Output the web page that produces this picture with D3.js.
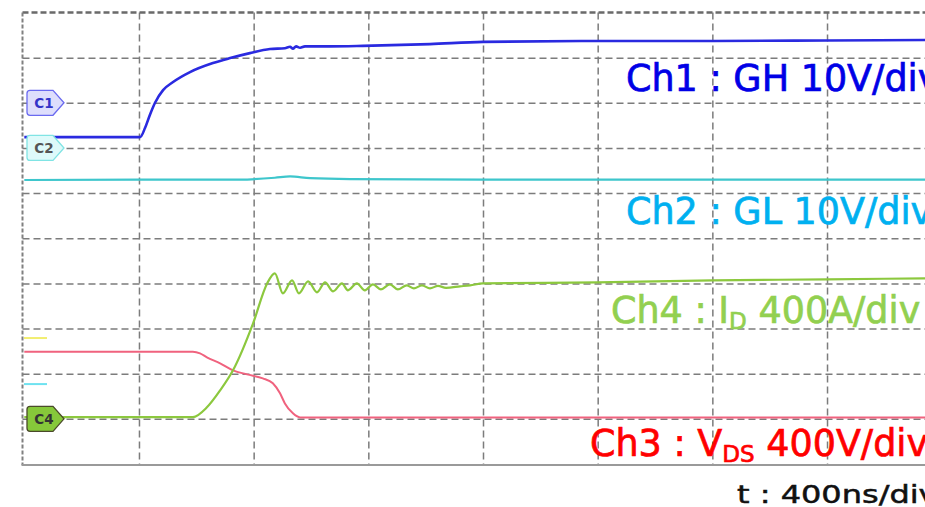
<!DOCTYPE html>
<html>
<head>
<meta charset="utf-8">
<script src="https://cdn.jsdelivr.net/npm/d3@7"></script>
<style>
  body { margin: 0; background: #fff; }
  svg { display: block; }
  .lbl { font-family: "DejaVu Sans", Verdana, sans-serif; font-weight: normal; }
  .tag { font-family: "DejaVu Sans", sans-serif; font-weight: bold; font-size: 13.5px; }
</style>
</head>
<body>
<div id="scope"></div>
<script>
  // screen of the scope
  var width = 925, height = 507;
  var box = {left: 22.5, top: 12.5, right: 925, bottom: 465};

  // time base 400 ns/div, 10 vertical divisions
  var timeTicks = [400, 800, 1200, 1600, 2000, 2400, 2800, 3200];
  var divTicks = [1, 2, 3, 4, 5, 6, 7, 8, 9];

  // Ch1 : GH, volts (10 V/div, ground at div 2 from top)
  var ch1Time = [0, 404, 421, 438, 456, 484, 519, 578, 658, 718, 787, 857, 909, 927, 937, 948, 962, 979, 1066, 1181, 1415, 1600, 2001, 2400, 2800, 3142];
  var ch1Volt = [-7.6, -7.6, -5.6, -2.7, 0.0, 2.8, 4.6, 6.8, 8.8, 9.9, 11.0, 11.9, 12.1, 12.4, 12.0, 12.5, 12.2, 12.5, 12.5, 12.6, 13.0, 13.5, 13.7, 13.7, 13.8, 13.9];

  // Ch2 : GL, volts (10 V/div, ground at div 3)
  var ch2Time = [0, 400, 752, 874, 927, 997, 1136, 1600, 2400, 3142];
  var ch2Volt = [-7.1, -7.0, -7.0, -6.6, -6.3, -6.7, -6.9, -7.0, -7.0, -7.0];

  // Ch3 : VDS, volts (400 V/div, ground at div 9)
  var ch3Time = [0, 588, 613, 637, 683, 728, 777, 832, 867, 892, 909, 937, 962, 1600, 3142];
  var ch3Volt = [594, 594, 580, 545, 492, 430, 394, 359, 315, 226, 137, 49, 13, 13, 13];

  // Ch4 : ID, amperes (400 A/div, ground at div 9)
  var ch4Time = [0, 588, 637, 683, 728, 798, 847, 874, 902, 934, 958, 990, 1021, 1049, 1077, 1108, 1129, 1160, 1188, 1216, 1244, 1275, 1303, 1334, 1359, 1387, 1415, 1443, 1471, 1520, 1555, 1600, 2001, 2399, 2800, 3142];
  var ch4Amp = [15, 15, 102, 252, 430, 846, 1200, 1289, 1112, 1227, 1112, 1218, 1121, 1209, 1130, 1200, 1139, 1200, 1139, 1192, 1147, 1192, 1147, 1183, 1156, 1183, 1156, 1178, 1161, 1174, 1183, 1200, 1209, 1227, 1236, 1245];

  // small level markers at the left edge, in divisions from top
  var levelDiv = [7.21, 8.23];
  var levelColor = ["#f2ee70", "#6ee2f0"];

  var svg = d3.select("#scope").append("svg")
      .attr("width", width)
      .attr("height", height);

  var x = d3.scaleLinear().domain([0, 3200]).range([24.3, 941.7]);
  var gy = d3.scaleLinear().domain([0, 10]).range([12.5, 464]);

  function chScale(zeroDiv, perDiv) {
    return d3.scaleLinear().domain([0, perDiv]).range([gy(zeroDiv), gy(zeroDiv - 1)]);
  }
  var y1 = chScale(2, 10), y2 = chScale(3, 10), y3 = chScale(9, 400), y4 = chScale(9, 400);

  // grid
  var gridV = svg.append("g")
      .attr("transform", `translate(0, ${box.top})`)
      .call(d3.axisTop(x).tickValues(timeTicks).tickSize(-(gy(10) - gy(0))).tickFormat(""));
  var gridH = svg.append("g")
      .attr("transform", `translate(${box.left}, 0)`)
      .call(d3.axisLeft(gy).tickValues(divTicks).tickSize(-(box.right - box.left)).tickFormat(""));
  svg.selectAll(".domain").remove();
  svg.selectAll(".tick line")
      .attr("stroke", "#7c7c7c")
      .attr("stroke-width", 1.5)
      .attr("stroke-dasharray", "7,4");

  // borders
  svg.append("line").attr("x1", box.left).attr("x2", box.right).attr("y1", box.top).attr("y2", box.top)
      .attr("stroke", "#6a6a6a").attr("stroke-width", 2.4).attr("stroke-dasharray", "6,3");
  svg.append("line").attr("x1", box.left).attr("x2", box.left).attr("y1", box.top).attr("y2", box.bottom)
      .attr("stroke", "#808080").attr("stroke-width", 2).attr("stroke-dasharray", "4,2");
  svg.append("line").attr("x1", box.left - 1).attr("x2", box.right).attr("y1", box.bottom).attr("y2", box.bottom)
      .attr("stroke", "#9a9a9a").attr("stroke-width", 2);

  svg.append("clipPath").attr("id", "screen")
    .append("rect")
      .attr("x", box.left).attr("y", box.top)
      .attr("width", box.right - box.left).attr("height", box.bottom - box.top);

  var traces = svg.append("g").attr("clip-path", "url(#screen)");

  function drawTrace(times, vals, yScale, color, w) {
    var line = d3.line()
        .x(function(d, i) { return x(times[i]); })
        .y(function(d) { return yScale(d); })
        .curve(d3.curveMonotoneX);
    traces.append("path")
        .datum(vals)
        .attr("d", line)
        .attr("fill", "none")
        .attr("stroke", color)
        .attr("stroke-width", w)
        .attr("stroke-linejoin", "round");
  }

  drawTrace(ch2Time, ch2Volt, y2, "#3ec6cc", 2.2);
  drawTrace(ch3Time, ch3Volt, y3, "#f0627e", 2);
  drawTrace(ch4Time, ch4Amp, y4, "#8cc83e", 2.2);
  drawTrace(ch1Time, ch1Volt, y1, "#2a2ae0", 2.6);

  // level markers
  svg.selectAll(".level")
      .data(levelDiv)
      .enter().append("line")
      .attr("class", "level")
      .attr("x1", 24).attr("x2", 47)
      .attr("y1", d => gy(d)).attr("y2", d => gy(d))
      .attr("stroke", (d, i) => levelColor[i])
      .attr("stroke-width", 2);

  // channel tags
  var tags = [
    {name: "C1", y: y1(0), fill: "#dedefc", stroke: "#6a6af0", text: "#3434c8"},
    {name: "C2", y: y2(0), fill: "#defafa", stroke: "#80e4e4", text: "#555555"},
    {name: "C4", y: y4(0), fill: "#86c83a", stroke: "#4a4a2a", text: "#333333"}
  ];
  var tag = svg.selectAll(".tag-g")
      .data(tags)
      .enter().append("g")
      .attr("transform", d => `translate(0, ${d.y})`);
  tag.append("path")
      .attr("d", "M30,-12.5 L53,-12.5 L64,0 L53,12.5 L30,12.5 Q27,12.5 27,9.5 L27,-9.5 Q27,-12.5 30,-12.5 Z")
      .attr("fill", d => d.fill)
      .attr("stroke", d => d.stroke)
      .attr("stroke-width", 1.3);
  tag.append("text")
      .attr("class", "tag")
      .attr("x", 44).attr("y", 5)
      .attr("text-anchor", "middle")
      .attr("fill", d => d.text)
      .text(d => d.name);

  // channel labels
  var lbl = svg.append("g").attr("class", "lbl");
  function label(xp, yp, color) {
    return lbl.append("text").attr("x", xp).attr("y", yp)
        .attr("font-size", 36.5).attr("fill", color)
        .attr("stroke", color).attr("stroke-width", 0.7);
  }
  label(626, 91, "#0000e6").text("Ch1 : GH 10V/div");
  label(626, 224, "#00b0f0").text("Ch2 : GL 10V/div");

  var t4 = label(611, 323, "#92d050");
  t4.append("tspan").text("Ch4 : I");
  t4.append("tspan").attr("font-size", 23).attr("dy", 6).text("D");
  t4.append("tspan").attr("dy", -6).text(" 400A/div");

  var t3 = label(590, 456, "#ff0000");
  t3.append("tspan").text("Ch3 : V");
  t3.append("tspan").attr("font-size", 23).attr("dy", 6).text("DS");
  t3.append("tspan").attr("dy", -6).text(" 400V/div");

  lbl.append("text")
      .attr("transform", "translate(737, 503) scale(1.28, 1)")
      .attr("font-size", 25).attr("fill", "#111")
      .attr("stroke", "#111").attr("stroke-width", 0.5)
      .text("t : 400ns/div");
</script>
</body>
</html>
